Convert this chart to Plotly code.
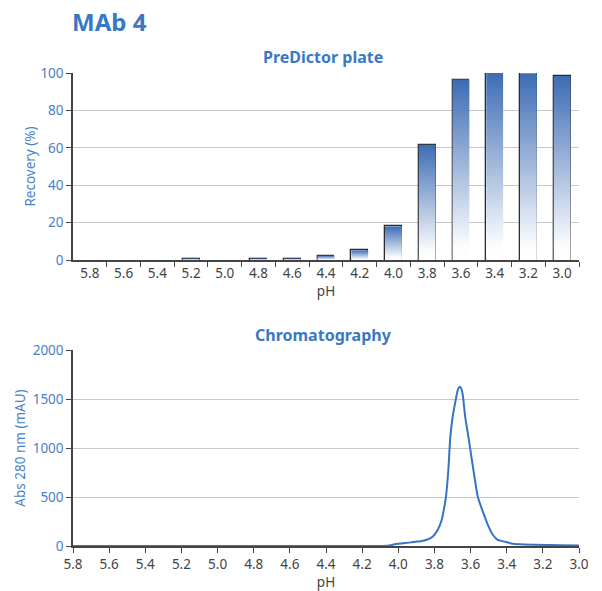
import plotly.graph_objects as go

# ---------------- data ----------------
ph_labels = ["5.8", "5.6", "5.4", "5.2", "5.0", "4.8", "4.6", "4.4",
             "4.2", "4.0", "3.8", "3.6", "3.4", "3.2", "3.0"]
recovery = [0, 0, 0, 0.8, 0, 0.8, 0.8, 2.3, 5.2, 18.0, 61.6, 96.5, 100, 99.8, 98.4]

chrom_ph = [5.8, 5.0, 4.3, 4.06, 4.02, 3.93, 3.856, 3.81, 3.782, 3.76, 3.745,
            3.736, 3.723, 3.712, 3.699, 3.686, 3.671, 3.662, 3.652, 3.643,
            3.63, 3.615, 3.597, 3.578, 3.56, 3.532, 3.504, 3.476, 3.45, 3.425,
            3.403, 3.366, 3.3, 3.246, 3.1, 3.0]
chrom_abs = [0, 0, 0, 2, 17, 37, 56, 95, 163, 265, 400,
             503, 775, 1115, 1319, 1455, 1590, 1625, 1610, 1540,
             1320, 1150, 930, 700, 503, 350, 214, 112, 62, 50,
             40, 22, 15, 13, 8, 5]

# ---------------- style ----------------
FONT = "Noto Sans"
BLUE = "#3b78c3"
TICKBLUE = "#4a80c8"
GRAY = "#444444"
GRID = "#c8c8c8"
BAR_TOP = "#3d6cb4"
BAR_W = 0.5

fig = go.Figure()

# gradient fills of bars (one polygon per bar, from data)
idx = list(range(len(ph_labels)))
for i, v in zip(idx, recovery):
    if v <= 0:
        continue
    fig.add_trace(go.Scatter(
        x=[i - BAR_W / 2, i + BAR_W / 2, i + BAR_W / 2, i - BAR_W / 2, i - BAR_W / 2],
        y=[0, 0, v, v, 0],
        mode="lines", line=dict(width=0), fill="toself",
        fillgradient=dict(type="vertical",
                          colorscale=[[0, "rgba(255,255,255,1)"], [0.08, "#fbfcfe"],
                                      [1, BAR_TOP]]),
        hoverinfo="skip", showlegend=False, xaxis="x", yaxis="y"))

# bar outlines
fig.add_trace(go.Bar(
    x=[i for i, v in zip(idx, recovery) if v > 0],
    y=[v for v in recovery if v > 0],
    width=BAR_W,
    marker=dict(color="rgba(0,0,0,0)", line=dict(color="#2b2b2b", width=1.3)),
    showlegend=False, xaxis="x", yaxis="y"))

# chromatogram
fig.add_trace(go.Scatter(
    x=chrom_ph, y=chrom_abs, mode="lines",
    line=dict(color="#3574c4", width=2, shape="spline", smoothing=0.6),
    showlegend=False, xaxis="x2", yaxis="y2"))

W, H = 602, 591
xd = [73 / W, 579 / W]
top_dom = [1 - 260 / H, 1 - 73 / H]
bot_dom = [1 - 546 / H, 1 - 350 / H]

TS = 13.5
tickfont_x = dict(family=FONT, size=TS, color=GRAY)
tickfont_y = dict(family=FONT, size=TS, color=TICKBLUE)

fig.update_layout(
    width=W, height=H,
    margin=dict(l=0, r=0, t=0, b=0, autoexpand=False),
    paper_bgcolor="white", plot_bgcolor="white",
    font=dict(family=FONT, color=GRAY),
    bargap=0,
    xaxis=dict(
        domain=xd, anchor="y", range=[-0.5, len(ph_labels) - 0.5],
        tickmode="array", tickvals=idx, ticktext=ph_labels,
        ticks="", tickfont=tickfont_x, showgrid=False, automargin=False,
        showline=True, linecolor=GRAY, linewidth=1.5,
        minor=dict(tickmode="array",
                   tickvals=[i + 0.5 for i in idx],
                   ticks="outside", ticklen=5, tickcolor=GRAY, tickwidth=1.2,
                   showgrid=False),
        title=dict(text="pH", font=dict(family=FONT, size=TS, color=GRAY), standoff=0),
        zeroline=False, fixedrange=True),
    yaxis=dict(
        domain=top_dom, anchor="x", range=[0, 100], dtick=20, automargin=False,
        ticks="outside", ticklen=5, tickcolor=GRAY, tickfont=tickfont_y,
        showgrid=True, gridcolor=GRID, gridwidth=1,
        showline=True, linecolor=GRAY, linewidth=1.5, zeroline=False,
        title=dict(text="Recovery (%)", font=dict(family=FONT, size=TS, color=TICKBLUE),
                   standoff=2)),
    xaxis2=dict(
        domain=xd, anchor="y2", range=[5.8, 3.0], dtick=0.2, tick0=3.0,
        tickformat=".1f", ticks="outside", ticklen=5, tickcolor=GRAY,
        tickfont=tickfont_x, showgrid=False, automargin=False,
        showline=True, linecolor=GRAY, linewidth=1.5, zeroline=False,
        title=dict(text="pH", font=dict(family=FONT, size=TS, color=GRAY), standoff=0)),
    yaxis2=dict(
        domain=bot_dom, anchor="x2", range=[0, 2000], dtick=500, automargin=False,
        ticks="outside", ticklen=5, tickcolor=GRAY, tickfont=tickfont_y,
        showgrid=True, gridcolor=GRID, gridwidth=1,
        showline=True, linecolor=GRAY, linewidth=1.5, zeroline=False,
        title=dict(text="Abs 280 nm (mAU)", font=dict(family=FONT, size=TS, color=TICKBLUE),
                   standoff=4)),
    annotations=[
        dict(text="<b>MAb 4</b>", x=70 / W, y=1 - 3 / H, xref="paper", yref="paper",
             xanchor="left", yanchor="top", showarrow=False,
             font=dict(family=FONT, size=24, color=BLUE)),
        dict(text="<b>PreDictor plate</b>", x=323 / W, y=1 - 57 / H, xref="paper",
             yref="paper", xanchor="center", yanchor="middle", showarrow=False,
             font=dict(family=FONT, size=16, color=BLUE)),
        dict(text="<b>Chromatography</b>", x=323 / W, y=1 - 335 / H, xref="paper",
             yref="paper", xanchor="center", yanchor="middle", showarrow=False,
             font=dict(family=FONT, size=16, color=BLUE)),
    ],
)

fig.write_html("out.html", config={"displayModeBar": False},
               post_script="document.body.style.margin='0';document.body.style.padding='0';")
